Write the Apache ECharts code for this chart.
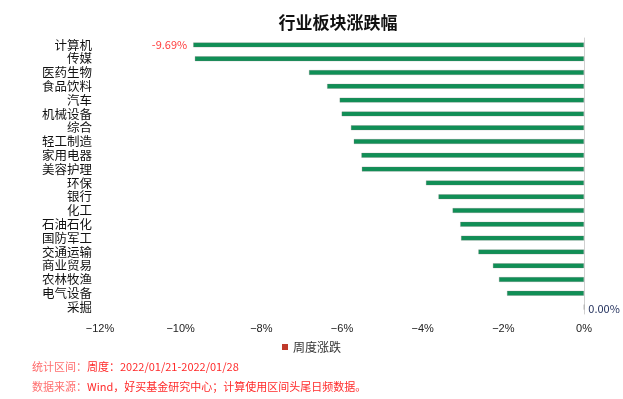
<!DOCTYPE html>
<html>
<head>
<meta charset="utf-8">
<script src="https://cdn.jsdelivr.net/npm/echarts@6/dist/echarts.min.js"></script>
<style>
  html, body { margin: 0; padding: 0; background: #fff; }
  #chart { width: 623px; height: 399px; }
</style>
</head>
<body>
<div id="chart"></div>
<script>
// Sector names, top to bottom
const sectors = ['计算机', '传媒', '医药生物', '食品饮料', '汽车', '机械设备', '综合', '轻工制造', '家用电器', '美容护理',
    '环保', '银行', '化工', '石油石化', '国防军工', '交通运输', '商业贸易', '农林牧渔', '电气设备', '采掘'];

// Weekly change, percent
const weeklyChange = [-9.69, -9.65, -6.82, -6.37, -6.06, -6.01, -5.78, -5.71, -5.52, -5.51,
    -3.92, -3.61, -3.26, -3.07, -3.05, -2.62, -2.26, -2.11, -1.91, 0.00];

const xTicks = [-12, -10, -8, -6, -4, -2, 0];

const seriesName = '周度涨跌';
const footLabels = ['统计区间：', '数据来源：'];
const footTexts = ['周度：2022/01/21-2022/01/28', 'Wind，好买基金研究中心；计算使用区间头尾日频数据。'];

document.addEventListener('DOMContentLoaded', function() {
    initChart();
});

function initChart() {
    const chart = echarts.init(document.getElementById('chart'));
    const last = weeklyChange.length - 1;

    const barData = weeklyChange.map((v, i) => {
        if (i === 0) {
            return { value: v, label: { show: true, position: 'left', color: '#ff3b3b', distance: 6 } };
        }
        if (i === last) {
            return { value: v, label: { show: true, position: 'right', color: '#1f2d5a', distance: 4, offset: [0, 2] } };
        }
        return v;
    });

    // footer lines: pale label + red text
    const footer = footLabels.map((lab, i) => ({
        type: 'text',
        left: 32,
        top: 361 + i * 20,
        style: {
            text: '{a|' + lab + '}{b|' + footTexts[i] + '}',
            rich: {
                a: { fontSize: 11, fill: '#ff6f6f', fontFamily: 'Noto Sans CJK SC' },
                b: { fontSize: 11, fill: '#ff2a2a', fontFamily: 'Noto Sans CJK SC' }
            }
        }
    }));

    const option = {
        backgroundColor: '#fff',
        animation: false,
        title: {
            text: '行业板块涨跌幅',
            left: 333,
            textAlign: 'center',
            top: 9,
            textStyle: { fontSize: 17, fontWeight: 'bold', color: '#111', fontFamily: 'Noto Sans CJK SC' }
        },
        legend: {
            data: [{ name: seriesName, itemStyle: { color: '#c0392b', borderWidth: 0, shadowBlur: 0 } }],
            left: 'center',
            top: 336,
            icon: 'rect',
            itemWidth: 6,
            itemHeight: 6,
            itemGap: 4,
            textStyle: { fontSize: 12, color: '#333', fontFamily: 'Noto Sans CJK SC' }
        },
        grid: { left: 100, right: 39, top: 38, bottom: 85, containLabel: false },
        xAxis: {
            type: 'value',
            min: xTicks[0],
            max: xTicks[xTicks.length - 1],
            interval: 2,
            axisLine: { show: false },
            axisTick: { show: false },
            splitLine: { show: false },
            axisLabel: {
                margin: 9,
                fontSize: 11,
                color: '#222',
                fontFamily: 'Liberation Sans',
                formatter: v => (v < 0 ? '\u2212' + Math.abs(v) : v) + '%'
            }
        },
        yAxis: [{
            type: 'category',
            data: sectors,
            inverse: true,
            axisLine: { show: false },
            axisTick: { show: false },
            axisLabel: {
                margin: 8,
                fontSize: 12.5,
                color: '#111',
                fontFamily: 'Noto Sans CJK SC',
                interval: 0
            }
        }, {
            type: 'category',
            data: sectors,
            inverse: true,
            position: 'right',
            axisLine: { show: true, lineStyle: { color: '#d0d0d0', width: 1 } },
            axisTick: { show: false },
            axisLabel: { show: false }
        }],
        series: [{
            name: seriesName,
            type: 'bar',
            data: barData,
            barWidth: 5,
            itemStyle: {
                color: '#108f56',
                borderColor: 'rgba(120,120,120,0.45)',
                borderWidth: 0.6
            },
            label: {
                show: false,
                fontSize: 11,
                fontFamily: 'Noto Sans CJK SC',
                formatter: p => p.value.toFixed(2) + '%'
            }
        }],
        graphic: footer
    };

    chart.setOption(option);
}
</script>
</body>
</html>
